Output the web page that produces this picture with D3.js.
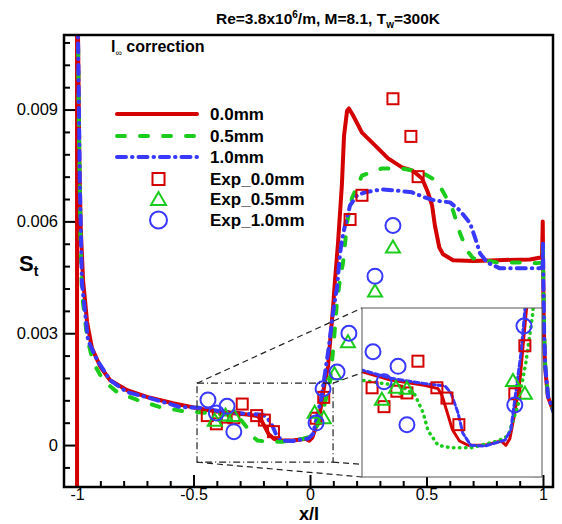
<!DOCTYPE html>
<html><head><meta charset="utf-8">
<script src="https://cdn.jsdelivr.net/npm/d3@7"></script>
<style>
body{margin:0;background:#fff}
svg{display:block}
text{font-family:"Liberation Sans",Arial,Helvetica,sans-serif;fill:#000}
</style>
</head><body>
<svg id="chart" width="562" height="524"></svg>
<script>
// ---------------- DATA ----------------
const lineNames = ["0.0mm", "0.5mm", "1.0mm"];
const expNames = ["Exp_0.0mm", "Exp_0.5mm", "Exp_1.0mm"];

const cfd00 = [[-1.0,-0.002],[-1.0,0.0125],[-0.996,0.0111],[-0.99,0.0075],[-0.984,0.0058],[-0.974,0.0044],[-0.966,0.0039],[-0.957,0.0033],[-0.936,0.0026],[-0.9,0.0021],[-0.858,0.00174],[-0.785,0.00147],[-0.7,0.00129],[-0.588,0.00112],[-0.485,0.00099],[-0.38,0.00088],[-0.27,0.00082],[-0.225,0.00078],[-0.212,0.0007],[-0.195,0.0005],[-0.178,0.0003],[-0.155,0.00017],[-0.127,0.00012],[-0.072,0.00012],[-0.019,0.00017],[-0.003,0.00012],[0.01,0.0002],[0.026,0.0005],[0.043,0.00088],[0.053,0.00128],[0.064,0.0017],[0.077,0.0021],[0.099,0.0037],[0.107,0.0044],[0.12,0.0054],[0.137,0.007],[0.146,0.0083],[0.159,0.00897],[0.167,0.00903],[0.185,0.00884],[0.223,0.00838],[0.279,0.00804],[0.335,0.00769],[0.395,0.00745],[0.438,0.00737],[0.481,0.00715],[0.506,0.00678],[0.524,0.00643],[0.536,0.00589],[0.555,0.0053],[0.571,0.00512],[0.614,0.00496],[0.7,0.00494],[0.803,0.00496],[0.944,0.00498],[0.996,0.00504],[0.999,0.006],[1.001,0.0045],[1.004,0.003],[1.009,0.0021],[1.021,0.0013],[1.045,0.0009]];

const cfd05 = [[-0.998,0.0125],[-0.993,0.009],[-0.985,0.0055],[-0.979,0.00407],[-0.957,0.00289],[-0.931,0.00222],[-0.888,0.00174],[-0.828,0.00142],[-0.742,0.00121],[-0.644,0.00102],[-0.545,0.00091],[-0.477,0.00088],[-0.422,0.00085],[-0.346,0.00081],[-0.301,0.00071],[-0.274,0.0005],[-0.258,0.00029],[-0.225,0.00012],[-0.183,0.00009],[-0.118,0.00009],[-0.029,0.00017],[0.004,0.00023],[0.036,0.00058],[0.062,0.00108],[0.085,0.00166],[0.1,0.0026],[0.115,0.0038],[0.13,0.0045],[0.142,0.0049],[0.16,0.006],[0.18,0.00662],[0.223,0.00723],[0.309,0.00742],[0.395,0.00742],[0.481,0.00731],[0.54,0.0071],[0.571,0.0068],[0.614,0.00629],[0.644,0.00568],[0.674,0.00522],[0.7,0.00501],[0.803,0.0049],[0.888,0.0049],[0.974,0.00488],[0.997,0.0049],[1.0,0.0053],[1.002,0.0042],[1.005,0.003],[1.01,0.0021],[1.022,0.0013],[1.045,0.0009]];

const cfd10 = [[-0.999,0.0125],[-0.995,0.0105],[-0.988,0.007],[-0.979,0.00434],[-0.953,0.00281],[-0.914,0.00228],[-0.858,0.00174],[-0.785,0.00142],[-0.687,0.00126],[-0.558,0.00102],[-0.477,0.001],[-0.38,0.0009],[-0.27,0.00084],[-0.202,0.00081],[-0.183,0.00073],[-0.16,0.0005],[-0.144,0.00026],[-0.118,0.00012],[-0.072,0.00011],[-0.006,0.00018],[0.013,0.0003],[0.03,0.00076],[0.046,0.00119],[0.059,0.0017],[0.08,0.0026],[0.1,0.0036],[0.116,0.00423],[0.129,0.00514],[0.137,0.0055],[0.15,0.00589],[0.172,0.00643],[0.202,0.0067],[0.236,0.00678],[0.309,0.00686],[0.365,0.00683],[0.438,0.00678],[0.494,0.00664],[0.536,0.00656],[0.601,0.00651],[0.644,0.00629],[0.687,0.00595],[0.708,0.00557],[0.73,0.00514],[0.76,0.0049],[0.815,0.00474],[0.901,0.00474],[0.987,0.00474],[0.998,0.0048],[1.0,0.0054],[1.002,0.0042],[1.005,0.003],[1.01,0.0021],[1.022,0.0013],[1.045,0.0009]];

const exp00 = [[-0.441,0.00079],[-0.402,0.00057],[-0.360,0.00075],[-0.327,0.00073],[-0.291,0.00110],[-0.229,0.00079],[-0.196,0.00067],[-0.157,0.00036],[0.026,0.00072],[0.059,0.00128],[0.172,0.00605],[0.223,0.0067],[0.356,0.00929],[0.433,0.00828],[0.464,0.0072]];
const exp05 = [[-0.409,0.00065],[-0.363,0.00079],[-0.327,0.00078],[0.020,0.00087],[0.059,0.00072],[0.105,0.0019],[0.163,0.00276],[0.279,0.00412],[0.356,0.0053]];
const exp10 = [[-0.438,0.00121],[-0.402,0.00086],[-0.356,0.00104],[-0.327,0.00036],[0.026,0.00059],[0.056,0.00151],[0.116,0.00196],[0.167,0.0030],[0.279,0.00453],[0.356,0.00589]];

const xTicks = [-1, -0.5, 0, 0.5, 1];
const xTickLabels = ["-1", "-0.5", "0", "0.5", "1"];
const yTicks = [0, 0.003, 0.006, 0.009];
const yTickLabels = ["0", "0.003", "0.006", "0.009"];

// zoomed window (data coordinates) and what the inset shows
const zoomBoxX = [-0.485, 0.099];
const zoomBoxY = [-0.00046, 0.00166];
const insetX = [-0.474, 0.115];
const insetY = [-0.00025, 0.00172];

// ---------------- LAYOUT ----------------
const L = 64, R = 553, T = 35, B = 487;
const RED = "#d40000", GREEN = "#1ccc1c", BLUE = "#3838ff";
const svg = d3.select("#chart");

const x = d3.scaleLinear().domain([-1.056, 1.043]).range([L, R]);
const y = d3.scaleLinear().domain([-0.001125, 0.011]).range([B, T]);

const defs = svg.append("defs");
defs.append("clipPath").attr("id", "plotClip")
  .append("rect").attr("x", L).attr("y", T).attr("width", R - L).attr("height", B - T);

const styles = [
  {data: cfd00, color: RED, dash: null},
  {data: cfd05, color: GREEN, dash: "8,15"},
  {data: cfd10, color: BLUE, dash: "9,6,0.5,6"}
];

// ---------- Axes ----------
const minorX = d3.range(-10, 11).map(i => i / 10).filter(v => !xTicks.some(t => Math.abs(t - v) < 1e-9));
const minorY = d3.range(-1, 19).map(i => +(i * 0.0006).toFixed(5)).filter(v => !yTicks.some(t => Math.abs(t - v) < 1e-9) && v < 0.011);

const gx = svg.append("g").attr("transform", `translate(0,${B})`)
  .call(d3.axisBottom(x).tickValues(xTicks).tickFormat((d, i) => xTickLabels[i]).tickSize(-12).tickPadding(1.5));
const gxm = svg.append("g").attr("transform", `translate(0,${B})`)
  .call(d3.axisBottom(x).tickValues(minorX).tickFormat("").tickSize(-6));
const gy = svg.append("g").attr("transform", `translate(${L},0)`)
  .call(d3.axisLeft(y).tickValues(yTicks).tickFormat((d, i) => yTickLabels[i]).tickSize(-12).tickPadding(6));
const gym = svg.append("g").attr("transform", `translate(${L},0)`)
  .call(d3.axisLeft(y).tickValues(minorY).tickFormat("").tickSize(-6));
[gx, gxm, gy, gym].forEach(g => {
  g.select(".domain").remove();
  g.selectAll(".tick line").attr("stroke", "#000").attr("stroke-width", 2);
  g.selectAll("text").attr("font-size", 16.5).attr("fill", "#000");
});
gx.selectAll("text").attr("font-size", 16);

// ---------- main curves ----------
const plotG = svg.append("g").attr("clip-path", "url(#plotClip)");
styles.forEach(s => {
  plotG.append("path").datum(s.data)
    .attr("d", d3.line().x(d => x(d[0])).y(d => y(d[1])))
    .attr("fill", "none").attr("stroke", s.color).attr("stroke-width", 4)
    .attr("stroke-linecap", "round").attr("stroke-linejoin", "round")
    .attr("stroke-dasharray", s.dash);
});

// markers
function drawMarkers(g, sx, sy) {
  g.selectAll(null).data(exp00).enter().append("rect")
    .attr("x", d => sx(d[0]) - 5.5).attr("y", d => sy(d[1]) - 5.5)
    .attr("width", 11).attr("height", 11)
    .attr("fill", "none").attr("stroke", RED).attr("stroke-width", 2);
  g.selectAll(null).data(exp05).enter().append("path")
    .attr("d", d => {
      const cx = sx(d[0]), cy = sy(d[1]);
      return `M${cx},${cy - 7}L${cx + 7},${cy + 5}L${cx - 7},${cy + 5}Z`;
    })
    .attr("fill", "none").attr("stroke", GREEN).attr("stroke-width", 2);
  g.selectAll(null).data(exp10).enter().append("circle")
    .attr("cx", d => sx(d[0])).attr("cy", d => sy(d[1])).attr("r", 7.5)
    .attr("fill", "none").attr("stroke", BLUE).attr("stroke-width", 2);
}
drawMarkers(svg.append("g"), x, y);

// ---------- zoom box & connectors ----------
const zx0 = x(zoomBoxX[0]), zx1 = x(zoomBoxX[1]), zy0 = y(zoomBoxY[1]), zy1 = y(zoomBoxY[0]);
const ix0 = 362, ix1 = 542, iy0 = 308, iy1 = 477;
svg.append("rect").attr("x", zx0).attr("y", zy0).attr("width", zx1 - zx0).attr("height", zy1 - zy0)
  .attr("fill", "none").attr("stroke", "#222").attr("stroke-width", 1.2).attr("stroke-dasharray", "7,3,1,3");
const connectors = [[zx0, zy0, ix0, iy0], [zx1, zy0, ix1, iy0], [zx0, zy1, ix0, iy1], [zx1, zy1, ix1, iy1]];
svg.append("g").selectAll("line").data(connectors).enter().append("line")
  .attr("x1", d => d[0]).attr("y1", d => d[1]).attr("x2", d => d[2]).attr("y2", d => d[3])
  .attr("stroke", "#222").attr("stroke-width", 1.2).attr("stroke-dasharray", "6,4");

// ---------- inset ----------
const xi = d3.scaleLinear().domain(insetX).range([ix0, ix1]);
const yi = d3.scaleLinear().domain(insetY).range([iy1, iy0]);
defs.append("clipPath").attr("id", "insetClip")
  .append("rect").attr("x", ix0).attr("y", iy0).attr("width", ix1 - ix0).attr("height", iy1 - iy0);
svg.append("rect").attr("x", ix0).attr("y", iy0).attr("width", ix1 - ix0).attr("height", iy1 - iy0)
  .attr("fill", "#fff");
const insetG = svg.append("g").attr("clip-path", "url(#insetClip)");
const insetStyles = [
  {data: cfd00, color: RED, dash: null, w: 3},
  {data: cfd05, color: GREEN, dash: "0.5,5.5", w: 3.5},
  {data: cfd10, color: BLUE, dash: "5,3", w: 3}
];
insetStyles.forEach(s => {
  insetG.append("path").datum(s.data)
    .attr("d", d3.line().x(d => xi(d[0])).y(d => yi(d[1])))
    .attr("fill", "none").attr("stroke", s.color).attr("stroke-width", s.w)
    .attr("stroke-linecap", "round").attr("stroke-linejoin", "round")
    .attr("stroke-dasharray", s.dash);
});
drawMarkers(insetG, xi, yi);
svg.append("rect").attr("x", ix0).attr("y", iy0).attr("width", ix1 - ix0).attr("height", iy1 - iy0)
  .attr("fill", "none").attr("stroke", "#555").attr("stroke-width", 1);

// ---------- frame ----------
svg.append("rect").attr("x", L).attr("y", T).attr("width", R - L).attr("height", B - T)
  .attr("fill", "none").attr("stroke", "#000").attr("stroke-width", 2.5);

// ---------- texts ----------
const title = svg.append("text").attr("x", 328).attr("y", 24).attr("text-anchor", "middle")
  .attr("font-size", 15.5).attr("font-weight", "bold");
title.append("tspan").text("Re=3.8x10");
title.append("tspan").attr("font-size", 10).attr("dy", -6).text("6");
title.append("tspan").attr("dy", 6).text("/m, M=8.1, T");
title.append("tspan").attr("font-size", 10).attr("dy", 4).text("w");
title.append("tspan").attr("dy", -4).text("=300K");

const corr = svg.append("text").attr("x", 111).attr("y", 52).attr("font-size", 16).attr("font-weight", "bold");
corr.append("tspan").text("l");
corr.append("tspan").attr("font-size", 9).attr("font-weight", "normal").attr("dy", 4).text("∞");
corr.append("tspan").attr("dy", -4).text(" correction");

svg.append("text").attr("x", 309).attr("y", 519.5).attr("text-anchor", "middle")
  .attr("font-size", 18).attr("font-weight", "bold").text("x/l");
const st = svg.append("text").attr("x", 19).attr("y", 271).attr("font-size", 22).attr("font-weight", "bold");
st.append("tspan").text("S");
st.append("tspan").attr("font-size", 14).attr("dy", 5).text("t");

// ---------- legend ----------
const lg = svg.append("g");
const lineRows = [114, 136, 157];
styles.forEach((s, i) => {
  lg.append("line").attr("x1", 117).attr("x2", 197).attr("y1", lineRows[i]).attr("y2", lineRows[i])
    .attr("stroke", s.color).attr("stroke-width", 4).attr("stroke-linecap", "round")
    .attr("stroke-dasharray", s.dash);
  lg.append("text").attr("x", 210).attr("y", lineRows[i] + 6).attr("font-size", 17)
    .attr("font-weight", "bold").text(lineNames[i]);
});
const expRows = [179, 199, 220];
lg.append("rect").attr("x", 152.5).attr("y", expRows[0] - 6).attr("width", 12).attr("height", 12)
  .attr("fill", "none").attr("stroke", RED).attr("stroke-width", 2);
lg.append("path").attr("d", `M158.5,${expRows[1] - 7}L166,${expRows[1] + 6}L151,${expRows[1] + 6}Z`)
  .attr("fill", "none").attr("stroke", GREEN).attr("stroke-width", 2);
lg.append("circle").attr("cx", 158.5).attr("cy", expRows[2]).attr("r", 8.5)
  .attr("fill", "none").attr("stroke", BLUE).attr("stroke-width", 2);
expNames.forEach((n, i) => {
  lg.append("text").attr("x", 210).attr("y", expRows[i] + 6).attr("font-size", 17)
    .attr("font-weight", "bold").text(n);
});
</script>
</body></html>
